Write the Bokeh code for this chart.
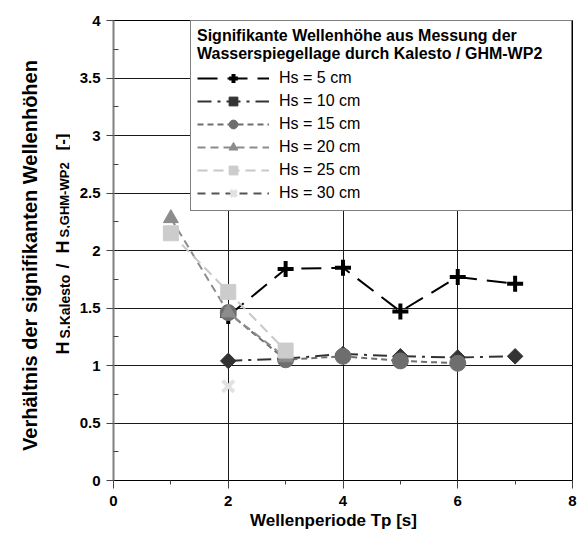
import numpy as np
from bokeh.plotting import figure
from bokeh.layouts import row
from bokeh.models import Range1d, Legend, LegendItem, FixedTicker
from bokeh.core.properties import value
from bokeh.embed import file_html
from bokeh.resources import INLINE

# ---------------- data ----------------
tp_5 = [2, 3, 4, 5, 6, 7]
r_5 = [1.43, 1.84, 1.85, 1.47, 1.77, 1.71]
tp_10 = [2, 3, 4, 5, 6, 7]
r_10 = [1.04, 1.06, 1.10, 1.08, 1.07, 1.08]
tp_15 = [2, 3, 4, 5, 6]
r_15 = [1.46, 1.05, 1.08, 1.04, 1.02]
tp_20 = [1, 2, 3]
r_20 = [2.28, 1.46, 1.07]
tp_25 = [1, 2, 3]
r_25 = [2.15, 1.64, 1.13]
tp_30 = [2]
r_30 = [0.82]
series_labels = ["Hs = 5 cm", "Hs = 10 cm", "Hs = 15 cm", "Hs = 20 cm", "Hs = 25 cm", "Hs = 30 cm"]

x_ticks = [0, 2, 4, 6, 8]
x_tick_labels = ["0", "2", "4", "6", "8"]
x_minor = [1, 3, 5, 7]
y_ticks = [0, 0.5, 1, 1.5, 2, 2.5, 3, 3.5, 4]
y_tick_labels = ["0", "0.5", "1", "1.5", "2", "2.5", "3", "3.5", "4"]
y_minor = [0.25, 0.75, 1.25, 1.75, 2.25, 2.75, 3.25, 3.75]

legend_title = "Signifikante Wellenhöhe aus Messung der\nWasserspiegellage durch Kalesto / GHM-WP2"
x_title = "Wellenperiode   Tp   [s]"

FONT = "Liberation Sans"
W, H = 587, 536
LEFT_W = 70          # width of the y-title strip
TOP_B, BOT_B = 20, 56

# ---------------- main plot ----------------
p = figure(title=None, frame_width=459, frame_height=460,
           x_range=Range1d(0, 8), y_range=Range1d(0, 4),
           output_backend="svg", toolbar_location=None,
           min_border_left=43, min_border_top=TOP_B, min_border_right=15, min_border_bottom=BOT_B,
           background_fill_color="white", border_fill_color="white")

p.outline_line_color = "black"
p.outline_line_width = 1

p.xaxis.ticker = FixedTicker(ticks=x_ticks, minor_ticks=x_minor)
p.yaxis.ticker = FixedTicker(ticks=y_ticks, minor_ticks=y_minor)
def _k(v):
    return int(v) if float(v).is_integer() else float(v)
p.xaxis.major_label_overrides = {_k(v): s for v, s in zip(x_ticks, x_tick_labels)}
p.yaxis.major_label_overrides = {_k(v): s for v, s in zip(y_ticks, y_tick_labels)}

for ax in (p.xaxis[0], p.yaxis[0]):
    ax.major_label_text_font = FONT
    ax.major_label_text_font_style = "bold"
    ax.major_label_text_font_size = "15px"
    ax.major_label_text_color = "black"
    ax.major_tick_line_color = "#444444"
    ax.minor_tick_line_color = "#444444"

p.yaxis.axis_label = None
p.yaxis.axis_line_color = "#808080"
p.yaxis.axis_line_width = 2
p.yaxis.major_tick_out = 7
p.yaxis.major_tick_in = 0
p.yaxis.minor_tick_in = 5
p.yaxis.minor_tick_out = 0
p.yaxis.major_label_standoff = 6

p.xaxis.axis_label = x_title
p.xaxis.axis_label_text_font = FONT
p.xaxis.axis_label_text_font_style = "bold"
p.xaxis.axis_label_text_font_size = "17px"
p.xaxis.axis_label_text_color = "black"
p.xaxis.axis_label_standoff = 2
p.xaxis.axis_line_color = "black"
p.xaxis.axis_line_width = 1
p.xaxis.major_tick_out = 8
p.xaxis.major_tick_in = 0
p.xaxis.minor_tick_out = 4
p.xaxis.minor_tick_in = 0
p.xaxis.major_label_standoff = 7

p.xgrid.ticker = FixedTicker(ticks=x_ticks)
p.ygrid.ticker = FixedTicker(ticks=y_ticks)
p.grid.grid_line_color = "#1a1a1a"
p.grid.grid_line_width = 1

items = []

l5 = p.line(tp_5, r_5, line_color="black", line_width=2, line_dash="20 10")
s5 = p.scatter(tp_5, r_5, marker="cross", size=16, line_color="black", line_width=4)
items.append(LegendItem(label=series_labels[0], renderers=[l5, s5]))

l10 = p.line(tp_10, r_10, line_color="#333333", line_width=2, line_dash="14 6 3 6")
s10 = p.scatter(tp_10, r_10, marker="square", angle=np.pi / 4, size=11,
                fill_color="#333333", line_color="#333333")
items.append(LegendItem(label=series_labels[1], renderers=[l10, s10]))

l15 = p.line(tp_15, r_15, line_color="#6e6e6e", line_width=2, line_dash="6 4")
s15 = p.scatter(tp_15, r_15, marker="circle", size=16, fill_color="#6e6e6e", line_color="#6e6e6e")
items.append(LegendItem(label=series_labels[2], renderers=[l15, s15]))

l20 = p.line(tp_20, r_20, line_color="#8c8c8c", line_width=2, line_dash="8 5")
s20 = p.scatter(tp_20, r_20, marker="triangle", size=15, fill_color="#8c8c8c", line_color="#8c8c8c")
items.append(LegendItem(label=series_labels[3], renderers=[l20, s20]))

l25 = p.line(tp_25, r_25, line_color="#c8c8c8", line_width=2, line_dash="10 6")
s25 = p.scatter(tp_25, r_25, marker="square", size=15, fill_color="#cccccc", line_color="#cccccc")
items.append(LegendItem(label=series_labels[4], renderers=[l25, s25]))

l30 = p.line(tp_30, r_30, line_color="#555555", line_width=2, line_dash="8 6")
s30 = p.scatter(tp_30, r_30, marker="x", size=16, line_color="#e2e2e2", line_width=4)
items.append(LegendItem(label=series_labels[5], renderers=[l30, s30]))

legend = Legend(items=items, location="top_right", margin=0,
                title=legend_title,
                title_text_font=FONT, title_text_font_style="bold", title_text_font_size="16px",
                title_text_color="black", title_standoff=4,
                label_text_font=FONT, label_text_font_size="16px", label_text_color="black",
                glyph_width=72, glyph_height=22, label_height=22, label_width=286,
                label_standoff=10, spacing=1, padding=6,
                border_line_color="black", border_line_width=1.5,
                background_fill_color="white", background_fill_alpha=1.0)
p.add_layout(legend)

# ---------------- y-title strip (text glyphs in a pixel-space helper figure) ----------------
# its frame spans the same rows as the main frame (page y 20..480); y = H - page_y
left = figure(title=None, width=LEFT_W, height=H,
              x_range=Range1d(0, LEFT_W), y_range=Range1d(BOT_B, H - TOP_B),
              x_axis_location=None, y_axis_location=None,
              min_border_left=0, min_border_right=0, min_border_top=TOP_B, min_border_bottom=BOT_B,
              output_backend="svg", toolbar_location=None,
              background_fill_color="white", border_fill_color="white")
left.outline_line_color = None
left.grid.visible = False

def txt(f, text, x, y, size, angle=0.0, align="left", baseline="alphabetic"):
    f.text(x=[x], y=[y], text=[text], angle=angle,
           text_font=value(FONT), text_font_size=value(size), text_font_style="bold",
           text_color="black", text_align=align, text_baseline=baseline)

R = np.pi / 2
def ly(py):
    return H - py
txt(left, "Verhältnis der signifikanten Wellenhöhen", 29, ly(255), "20px", R, "center", "middle")
txt(left, "H", 62, ly(354), "18px", R)
txt(left, "S,Kalesto", 64, ly(338), "14px", R)
txt(left, "/", 62, ly(268), "18px", R)
txt(left, "H", 62, ly(253), "18px", R)
txt(left, "S,GHM-WP2", 64, ly(237), "13px", R)
txt(left, "[-]", 62, ly(150), "17px", R)

layout = row(left, p, spacing=0)
open("out.html", "w").write(file_html(layout, INLINE))
